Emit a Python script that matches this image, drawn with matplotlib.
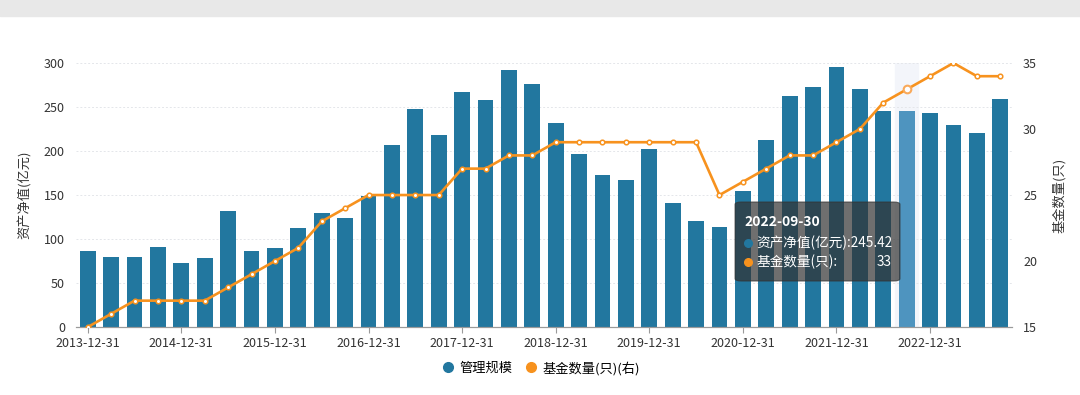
import numpy as np
import pandas as pd
import matplotlib
matplotlib.use("Agg")
from matplotlib import pyplot as plt
from matplotlib.patches import FancyBboxPatch, Rectangle

plt.rcParams['font.family'] = ['Noto Sans CJK SC', 'DejaVu Sans']
plt.rcParams['axes.unicode_minus'] = False

# quarterly report dates 2013-12-31 .. 2023-09-30
dates = pd.date_range("2013-12-31", "2023-09-30", freq="QE").strftime("%Y-%m-%d").tolist()

# 资产净值(亿元)
aum = [86, 80, 80, 91, 73, 79, 132, 86, 90, 112,
       130, 124, 149, 207, 248, 218, 267, 258, 292, 276,
       232, 197, 173, 167, 202, 141, 120, 114, 155, 213,
       262, 273, 295, 270, 245, 245.42, 243, 229, 221, 259]
# 基金数量(只)
fund_count = [15, 16, 17, 17, 17, 17, 18, 19, 20, 21,
              23, 24, 25, 25, 25, 25, 27, 27, 28, 28,
              29, 29, 29, 29, 29, 29, 29, 25, 26, 27,
              28, 28, 29, 30, 32, 33, 34, 35, 34, 34]

hi = dates.index("2022-09-30")
bar_color = "#22779f"
line_color = "#f7921e"
txt = "#333333"

fig = plt.figure(figsize=(10.8, 3.95), dpi=100)
ax = fig.add_axes([0.0704, 0.172, 0.8666, 0.6685])
ax2 = ax.twinx()
ax.set_zorder(ax2.get_zorder() - 1)
ax2.patch.set_visible(False)

x = np.arange(len(dates))
ax.axvspan(hi - 0.5, hi + 0.5, color="#f3f5fa", zorder=0)
colors = [bar_color] * len(dates)
colors[hi] = "#4e94bf"
ax.bar(x, aum, width=0.68, color=colors, zorder=2)

ax.set_xlim(-0.5, len(dates) - 0.5)
ax.set_ylim(0, 300)
ax.set_yticks(range(0, 301, 50))
ax.grid(axis="y", color="#e4e6ea", linestyle=(0, (2, 2)), linewidth=0.7, zorder=1)
ax.set_xticks(x[::4])
ax.set_xticklabels(dates[::4])

ax2.plot(x, fund_count, color=line_color, linewidth=1.9, marker="o", markersize=3.3,
         markerfacecolor="white", markeredgecolor=line_color, markeredgewidth=1.1, zorder=3)
ax2.plot(x[hi], fund_count[hi], marker="o", markersize=5.5, markerfacecolor="white",
         markeredgecolor="#f9a95a", markeredgewidth=1.5, zorder=4)
ax2.set_ylim(15, 35)
ax2.set_yticks(range(15, 36, 5))

for a in (ax, ax2):
    for s in ("top", "left", "right"):
        a.spines[s].set_visible(False)
    a.spines["bottom"].set_color("#9a9a9a")
    a.tick_params(axis="y", length=0, labelsize=9, colors=txt, pad=8)
ax.tick_params(axis="x", length=4, color="#9a9a9a", labelsize=9, labelcolor=txt)

ax.set_ylabel("资产净值(亿元)", fontsize=9.5, color=txt, labelpad=9)
ax2.set_ylabel("基金数量(只)", fontsize=9.5, color=txt, rotation=90, labelpad=11)

# legend
h1 = plt.Line2D([], [], linestyle="none", marker="o", markersize=7, color=bar_color)
h2 = plt.Line2D([], [], linestyle="none", marker="o", markersize=7, color=line_color)
fig.legend([h1, h2], ["管理规模", "基金数量(只)(右)"], loc="center", bbox_to_anchor=(0.5, 0.068),
           ncol=2, frameon=False, fontsize=9.5, handletextpad=0.3, columnspacing=0.8,
           handlelength=1.2)

# header strip
fig.patches.append(Rectangle((0, 0.96), 1, 0.04, transform=fig.transFigure,
                             color="#e8e8e8", zorder=0))

# tooltip
tip = FancyBboxPatch((0.6806, 0.2886), 0.1527, 0.2, boxstyle="round,pad=0,rounding_size=0.006",
                     transform=fig.transFigure, facecolor=(50/255, 50/255, 50/255, 0.7),
                     edgecolor=(0.2, 0.2, 0.2, 0.7), linewidth=0.8, zorder=10)
fig.patches.append(tip)
fig.text(0.689, 0.438, dates[hi], color="white", fontsize=10, fontweight="bold", va="center", zorder=11)
for yy, c in ((0.386, bar_color), (0.337, line_color)):
    fig.add_artist(plt.Line2D([0.6925], [yy], transform=fig.transFigure, linestyle="none",
                              marker="o", markersize=5.5, color=c, zorder=11))
fig.text(0.7005, 0.386, "资产净值(亿元):245.42", color="white", fontsize=9.8, va="center", zorder=11)
fig.text(0.7005, 0.337, "基金数量(只):", color="white", fontsize=9.8, va="center", zorder=11)
fig.text(0.826, 0.337, str(fund_count[hi]), color="white", fontsize=9.8, va="center", ha="right", zorder=11)

fig.savefig("out.png", dpi=100)
